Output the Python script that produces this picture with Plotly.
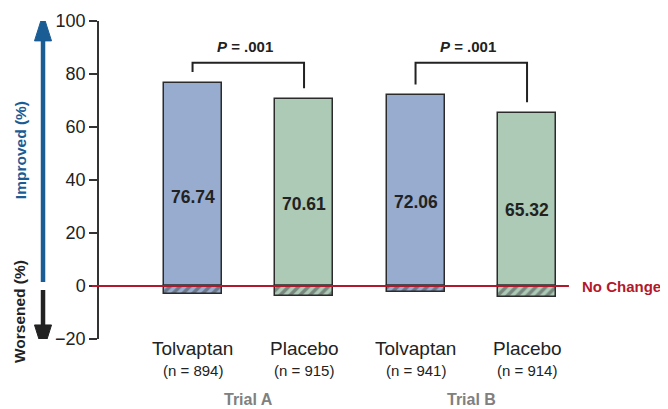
import plotly.graph_objects as go

# ---- data ----
groups = ["Trial A", "Trial A", "Trial B", "Trial B"]
arms = ["Tolvaptan", "Placebo", "Tolvaptan", "Placebo"]
n_labels = ["(n = 894)", "(n = 915)", "(n = 941)", "(n = 914)"]
improved = [76.74, 70.61, 72.06, 65.32]
worsened = [-3.1, -3.6, -2.4, -4.2]
trials = ["Trial A", "Trial B"]
p_values = [".001", ".001"]
y_ticks = [-20, 0, 20, 40, 60, 80, 100]

colors = ["#97accf", "#accab6", "#97accf", "#accab6"]
xpos = list(range(len(arms)))
FONT = "Liberation Sans, Arial, sans-serif"
DARK = "#222222"
YMIN, YMAX = -20, 100


def py(v):
    """data-y -> paper-y"""
    return (v - YMIN) / (YMAX - YMIN)


def ann(**kw):
    d = dict(showarrow=False, xanchor="center", yanchor="middle", borderpad=0)
    d.update(kw)
    return d


fig = go.Figure()
fig.add_trace(go.Bar(
    x=xpos, y=improved, width=0.52,
    marker=dict(color=colors, line=dict(color="#2b2b2b", width=1.5)),
    hoverinfo="skip", showlegend=False))
fig.add_trace(go.Bar(
    x=xpos, y=worsened, width=0.52,
    marker=dict(color=colors, line=dict(color="#2b2b2b", width=1.5),
                pattern=dict(shape="/", fgcolor="#111111", bgcolor=colors,
                             fillmode="overlay", size=7, solidity=0.5)),
    hoverinfo="skip", showlegend=False))

annotations = []
shapes = []

for i, v in enumerate(improved):
    annotations.append(ann(x=i, y=py(v * 0.44), xref="x", yref="paper", text=f"<b>{v:.2f}</b>",
                           font=dict(size=17.5, color=DARK, family=FONT)))
    annotations.append(ann(x=i, y=py(-23.4), xref="x", yref="paper", text=arms[i],
                           font=dict(size=19, color=DARK, family=FONT)))
    annotations.append(ann(x=i, y=py(-31.7), xref="x", yref="paper", text=n_labels[i],
                           font=dict(size=15, color=DARK, family=FONT)))

for k, t in enumerate(trials):
    a, b = 2 * k, 2 * k + 1
    annotations.append(ann(x=(a + b) / 2, y=py(-42.9), xref="x", yref="paper", text=f"<b>{t}</b>",
                           font=dict(size=16, color="#808080", family=FONT)))
    top = 84.2
    shapes.append(dict(type="path", xref="x", yref="y",
                       path=f"M {a},{improved[a] + 4} L {a},{top} L {b},{top} L {b},{improved[b] + 4}",
                       line=dict(color=DARK, width=2)))
    annotations.append(ann(x=(a + b) / 2 - 0.03, y=py(90.3), xref="x", yref="paper",
                           text=f"<b><i>P</i> = {p_values[k]}</b>",
                           font=dict(size=15, color=DARK, family=FONT)))

# no-change line
shapes.append(dict(type="line", xref="paper", yref="y", x0=-0.0146, x1=0.977, y0=0, y1=0,
                   line=dict(color="#b2182b", width=2)))
annotations.append(ann(x=1.002, y=py(0), xref="paper", yref="paper", xanchor="left",
                       text="<b>No Change</b>",
                       font=dict(size=15, color="#b2182b", family=FONT)))

# arrows on the left
ax = -0.1164
hw = 0.0177
BLUE = "#1a5c94"
shapes.append(dict(type="line", xref="paper", yref="y", x0=ax, x1=ax, y0=1.5, y1=93,
                   line=dict(color=BLUE, width=4.5)))
shapes.append(dict(type="path", xref="paper", yref="y",
                   path=f"M {ax - hw},92.5 L {ax + hw},92.5 L {ax},102.6 Z",
                   fillcolor=BLUE, line=dict(color=BLUE, width=1)))
shapes.append(dict(type="line", xref="paper", yref="y", x0=ax, x1=ax, y0=-1.5, y1=-15,
                   line=dict(color=DARK, width=4.5)))
shapes.append(dict(type="path", xref="paper", yref="y",
                   path=f"M {ax - hw},-14.7 L {ax + hw},-14.7 L {ax},-24.9 Z",
                   fillcolor=DARK, line=dict(color=DARK, width=1)))
annotations.append(ann(x=-0.164, y=py(51.3), xref="paper", yref="paper", text="<b>Improved (%)</b>",
                       textangle=-90, font=dict(size=15.5, color=BLUE, family=FONT)))
annotations.append(ann(x=-0.164, y=py(-9.8), xref="paper", yref="paper", text="<b>Worsened (%)</b>",
                       textangle=-90, font=dict(size=15.5, color=DARK, family=FONT)))

# page body has an 8px margin: figure sized/offset so marks land where the reference has them
fig.update_layout(
    width=660, height=401,
    margin=dict(l=91, r=88, t=13, b=70, autoexpand=False),
    paper_bgcolor="white", plot_bgcolor="white",
    barmode="relative", bargap=0,
    font=dict(family=FONT),
    xaxis=dict(range=[-0.839, 3.475], visible=False, fixedrange=True, automargin=False),
    yaxis=dict(range=[YMIN, YMAX], tickvals=y_ticks, showline=True, linecolor="#333333", linewidth=1.5,
               ticks="outside", ticklen=8, tickwidth=1.5, tickcolor="#333333",
               tickfont=dict(size=18, color=DARK, family=FONT), automargin=False,
               showgrid=False, zeroline=False, fixedrange=True),
    shapes=shapes, annotations=annotations,
)

fig.write_html("out.html")
